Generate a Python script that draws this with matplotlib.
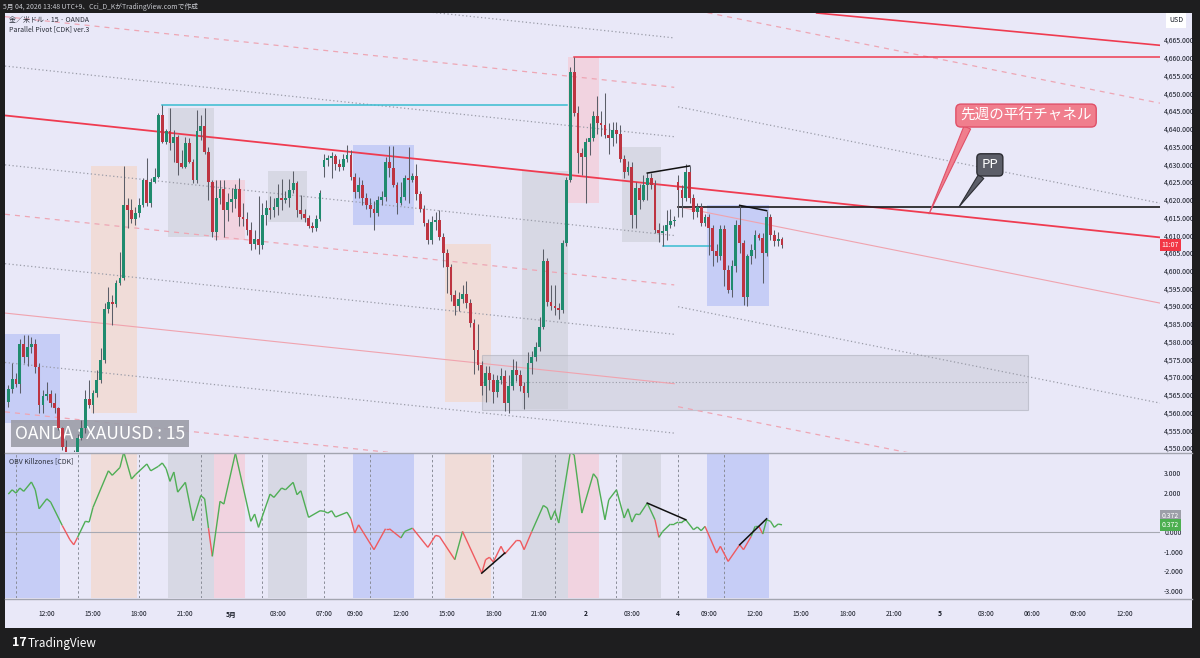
import numpy as np
import matplotlib.pyplot as plt
import matplotlib.transforms as mtransforms
from matplotlib.collections import LineCollection
from matplotlib.lines import Line2D
from matplotlib.patches import Rectangle

plt.rcParams['font.family'] = ['Noto Sans CJK JP', 'DejaVu Sans']

# 15 min candles, bar 0 = 4/30 09:30 JST, last bar = 5/4 13:45
opens = [
    4563.0, 4566.7, 4569.5, 4568.1, 4579.4, 4575.7, 4578.5, 4579.4, 4572.9, 4562.2,
    4564.7, 4565.3, 4562.7, 4561.3, 4555.7, 4550.4, 4547.5, 4545.5, 4548.0, 4552.9,
    4555.7, 4563.9, 4562.2, 4565.6, 4569.2, 4574.9, 4589.2, 4591.2, 4590.5, 4596.6,
    4598.0, 4618.5, 4617.1, 4614.6, 4616.3, 4618.5, 4625.5, 4619.1, 4625.0, 4626.4,
    4643.9, 4636.3, 4639.4, 4636.0, 4637.7, 4630.3, 4629.2, 4636.0, 4630.6, 4625.6,
    4639.4, 4640.8, 4633.4, 4625.0, 4610.9, 4620.5, 4623.0, 4617.1, 4619.4, 4620.2,
    4623.0, 4615.1, 4614.5, 4611.4, 4607.5, 4609.0, 4607.2, 4615.6, 4617.7, 4617.0,
    4617.8, 4620.5, 4620.0, 4620.6, 4622.6, 4624.6, 4617.1, 4616.0, 4614.8, 4612.6,
    4612.0, 4614.6, 4629.3, 4631.2, 4631.8, 4632.3, 4630.0, 4629.3, 4631.5, 4632.5,
    4626.5, 4622.3, 4624.0, 4620.5, 4618.5, 4617.3, 4616.2, 4619.9, 4620.8, 4630.6,
    4629.0, 4624.1, 4619.1, 4620.8, 4626.1, 4625.6, 4626.6, 4621.6, 4617.5, 4613.5,
    4608.7, 4613.8, 4614.3, 4609.6, 4604.9, 4601.1, 4593.2, 4590.0, 4592.0, 4593.5,
    4590.8, 4585.2, 4577.7, 4573.4, 4567.4, 4571.2, 4569.2, 4565.7, 4569.2, 4570.2,
    4562.7, 4567.4, 4572.0, 4570.5, 4567.5, 4565.5, 4574.0, 4575.8, 4578.6, 4584.2,
    4602.6, 4591.3, 4590.0, 4589.6, 4589.0, 4607.7, 4625.6, 4656.1, 4644.4, 4633.1,
    4632.0, 4636.3, 4637.5, 4643.6, 4641.5, 4641.0, 4638.2, 4637.5, 4639.6, 4638.6,
    4631.4, 4627.9, 4629.2, 4615.7, 4623.2, 4620.0, 4624.2, 4626.2, 4624.2, 4611.5,
    4610.5, 4611.2, 4613.0, 4614.0, 4625.1, 4622.7, 4620.4, 4627.9, 4620.4, 4616.6,
    4617.8, 4613.4, 4615.0, 4612.0, 4605.4, 4604.0, 4611.6, 4600.2, 4594.5, 4601.2,
    4612.9, 4607.7, 4592.7, 4604.0, 4605.9, 4610.1, 4609.1, 4604.9, 4615.2, 4610.1,
    4608.3, 4609.0]
highs = [
    4567.8, 4574.0, 4571.2, 4580.8, 4582.0, 4582.0, 4581.3, 4580.8, 4574.0, 4566.4,
    4568.7, 4566.4, 4565.6, 4561.6, 4556.0, 4552.4, 4549.0, 4549.5, 4554.0, 4558.0,
    4566.4, 4569.2, 4566.4, 4572.0, 4578.2, 4590.9, 4595.4, 4593.2, 4597.4, 4605.3,
    4629.5, 4620.5, 4620.2, 4618.0, 4620.5, 4626.1, 4631.8, 4626.1, 4629.0, 4644.4,
    4646.7, 4640.0, 4645.8, 4639.7, 4638.3, 4634.0, 4637.7, 4637.4, 4631.5, 4645.3,
    4643.9, 4645.8, 4634.9, 4625.6, 4625.6, 4625.6, 4625.6, 4622.0, 4623.3, 4624.4,
    4626.0, 4619.0, 4616.5, 4613.6, 4611.4, 4621.0, 4619.1, 4620.0, 4621.0, 4620.5,
    4624.4, 4625.9, 4622.5, 4625.9, 4628.0, 4625.4, 4621.3, 4617.5, 4615.6, 4613.6,
    4615.8, 4622.8, 4633.0, 4632.5, 4633.5, 4633.0, 4631.5, 4633.0, 4635.5, 4634.0,
    4627.5, 4626.5, 4625.5, 4622.0, 4620.5, 4619.5, 4621.0, 4622.5, 4632.0, 4635.2,
    4635.2, 4625.0, 4625.0, 4627.0, 4634.9, 4627.5, 4630.0, 4622.5, 4618.5, 4614.5,
    4615.5, 4616.5, 4617.0, 4610.5, 4606.0, 4601.8, 4594.5, 4594.0, 4596.0, 4597.0,
    4592.0, 4586.5, 4585.0, 4574.5, 4573.0, 4573.0, 4571.0, 4570.5, 4572.5, 4572.0,
    4570.5, 4575.0, 4574.5, 4572.0, 4568.5, 4577.0, 4577.5, 4580.0, 4587.0, 4606.0,
    4603.5, 4596.0, 4596.0, 4591.0, 4608.5, 4626.5, 4657.5, 4660.3, 4646.5, 4634.5,
    4637.5, 4641.5, 4645.0, 4649.3, 4645.0, 4650.0, 4641.5, 4642.0, 4642.0, 4641.0,
    4632.5, 4631.0, 4630.5, 4625.0, 4624.5, 4627.0, 4627.5, 4627.5, 4625.5, 4613.5,
    4613.0, 4617.0, 4617.5, 4615.5, 4627.0, 4624.0, 4630.0, 4629.5, 4621.5, 4619.0,
    4619.0, 4616.0, 4616.0, 4613.0, 4607.5, 4613.0, 4613.0, 4601.5, 4603.0, 4614.3,
    4618.4, 4608.5, 4604.6, 4607.5, 4611.5, 4610.5, 4610.5, 4616.9, 4616.0, 4611.5,
    4611.0, 4609.5]
lows = [
    4561.6, 4565.6, 4567.3, 4565.6, 4574.0, 4573.0, 4576.8, 4571.2, 4559.9, 4559.9,
    4563.6, 4561.6, 4559.9, 4555.1, 4549.5, 4545.0, 4543.0, 4543.5, 4547.0, 4552.4,
    4554.3, 4561.3, 4560.0, 4564.4, 4568.4, 4574.0, 4588.1, 4584.7, 4589.8, 4596.0,
    4597.4, 4612.0, 4613.5, 4613.0, 4615.0, 4617.9, 4618.2, 4618.0, 4624.7, 4626.1,
    4636.0, 4635.8, 4634.0, 4630.6, 4627.0, 4629.0, 4629.0, 4630.3, 4624.7, 4624.7,
    4636.8, 4633.0, 4619.9, 4609.6, 4608.6, 4618.7, 4609.6, 4614.0, 4616.5, 4617.6,
    4612.5, 4612.5, 4610.0, 4605.9, 4606.0, 4604.8, 4606.0, 4613.0, 4614.5, 4615.0,
    4615.6, 4617.0, 4619.0, 4618.0, 4622.0, 4615.0, 4614.6, 4613.8, 4612.0, 4611.0,
    4611.2, 4614.0, 4626.5, 4629.5, 4626.0, 4628.5, 4628.0, 4628.5, 4630.5, 4625.5,
    4620.5, 4620.5, 4618.5, 4617.5, 4615.0, 4611.4, 4615.5, 4618.5, 4619.5, 4626.5,
    4623.5, 4616.0, 4618.5, 4620.0, 4619.0, 4625.0, 4620.0, 4616.5, 4612.5, 4607.5,
    4607.5, 4611.5, 4608.5, 4601.0, 4593.6, 4591.5, 4587.5, 4588.5, 4591.0, 4589.5,
    4584.0, 4571.0, 4572.0, 4565.0, 4563.0, 4566.5, 4562.6, 4564.5, 4568.0, 4560.5,
    4560.0, 4566.5, 4569.0, 4566.0, 4561.0, 4564.5, 4571.0, 4574.5, 4577.5, 4583.5,
    4590.0, 4589.0, 4587.5, 4586.5, 4588.0, 4607.0, 4625.0, 4643.5, 4627.4, 4627.0,
    4619.0, 4632.5, 4636.5, 4638.5, 4638.0, 4637.5, 4633.0, 4635.0, 4636.0, 4630.5,
    4626.0, 4627.0, 4612.0, 4612.0, 4617.5, 4619.5, 4620.0, 4623.0, 4610.5, 4608.0,
    4607.0, 4608.5, 4612.0, 4612.5, 4615.2, 4615.0, 4619.5, 4619.0, 4614.5, 4615.0,
    4612.5, 4612.5, 4604.4, 4601.3, 4602.5, 4603.0, 4595.8, 4593.6, 4592.5, 4599.5,
    4605.0, 4590.3, 4590.0, 4602.0, 4603.5, 4608.5, 4596.6, 4604.0, 4608.5, 4607.0,
    4607.0, 4606.5]
closes = [
    4566.7, 4569.5, 4568.1, 4579.4, 4575.7, 4578.5, 4579.4, 4572.9, 4562.2, 4564.7,
    4565.3, 4562.7, 4561.3, 4555.7, 4550.4, 4547.5, 4545.5, 4548.0, 4552.9, 4555.7,
    4563.9, 4562.2, 4565.6, 4569.2, 4574.9, 4589.2, 4591.2, 4590.5, 4596.6, 4598.0,
    4618.5, 4617.1, 4614.6, 4616.3, 4618.5, 4625.5, 4619.1, 4625.0, 4626.4, 4643.9,
    4636.3, 4639.4, 4636.0, 4637.7, 4630.3, 4629.2, 4636.0, 4630.6, 4625.6, 4639.4,
    4640.8, 4633.4, 4625.0, 4610.9, 4620.5, 4623.0, 4617.1, 4619.4, 4620.2, 4623.0,
    4615.1, 4614.5, 4611.4, 4607.5, 4609.0, 4607.2, 4615.6, 4617.7, 4617.0, 4617.8,
    4620.5, 4620.0, 4620.6, 4622.6, 4624.6, 4617.1, 4616.0, 4614.8, 4612.6, 4612.0,
    4614.6, 4622.0, 4631.2, 4631.8, 4632.3, 4630.0, 4629.3, 4631.5, 4632.5, 4626.5,
    4622.3, 4624.0, 4620.5, 4618.5, 4617.3, 4616.2, 4619.9, 4620.8, 4630.6, 4629.0,
    4624.1, 4619.1, 4620.8, 4626.1, 4625.6, 4626.6, 4621.6, 4617.5, 4613.5, 4608.7,
    4613.8, 4614.3, 4609.6, 4604.9, 4601.1, 4593.2, 4590.0, 4592.0, 4593.5, 4590.8,
    4585.2, 4577.7, 4573.4, 4567.4, 4571.2, 4569.2, 4565.7, 4569.2, 4570.2, 4562.7,
    4567.4, 4572.0, 4570.5, 4567.5, 4565.5, 4574.0, 4575.8, 4578.6, 4584.2, 4602.6,
    4591.3, 4590.0, 4589.6, 4589.0, 4607.7, 4625.6, 4656.1, 4644.4, 4633.1, 4632.0,
    4636.3, 4637.5, 4643.6, 4641.5, 4641.0, 4638.2, 4637.5, 4639.6, 4638.6, 4631.4,
    4627.9, 4629.2, 4615.7, 4623.2, 4620.0, 4624.2, 4626.2, 4624.2, 4611.5, 4610.5,
    4611.2, 4613.0, 4614.0, 4614.3, 4622.7, 4620.4, 4627.9, 4620.4, 4616.6, 4617.8,
    4613.4, 4615.0, 4612.0, 4605.4, 4604.0, 4611.6, 4600.2, 4594.5, 4601.2, 4612.9,
    4607.7, 4592.7, 4604.0, 4605.9, 4610.1, 4609.1, 4604.9, 4615.2, 4610.1, 4608.3,
    4609.0, 4607.3]
last_price = 4607.3

# time axis (bar index -> label)
tick_bars = [10, 22, 34, 46, 58, 70, 82, 90, 102, 114, 126, 138, 150, 162, 174,
             182, 194, 206, 218, 230, 242, 254, 266, 278, 290]
tick_labels = ['12:00', '15:00', '18:00', '21:00', '5月', '03:00', '07:00', '09:00',
               '12:00', '15:00', '18:00', '21:00', '2', '03:00', '4', '09:00', '12:00',
               '15:00', '18:00', '21:00', '5', '03:00', '06:00', '09:00', '12:00']
day_labels = ['5月', '2', '4', '5']
session_bars = [2, 18, 34, 50, 66, 82, 94, 110, 126, 142, 158, 174, 186]

# killzone boxes
kz_start = [-0.9, 21.5, 41.5, 53.5, 67.5, 89.5, 113.5, 133.5, 145.5, 159.5, 181.5]
kz_end = [13.4, 33.4, 53.5, 61.5, 77.5, 105.5, 125.5, 145.5, 153.5, 169.5, 197.5]
kz_high = [4582.2, 4629.5, 4645.8, 4625.6, 4628.0, 4635.5, 4607.5, 4628.0, 4660.3, 4634.9, 4618.4]
kz_low = [4557.0, 4560.0, 4609.6, 4608.6, 4613.8, 4613.0, 4563.0, 4561.0, 4619.0, 4608.0, 4590.0]
kz_kind = ['blue', 'orange', 'grey', 'pink', 'grey', 'blue', 'orange', 'grey', 'pink', 'grey', 'blue']

# last week's parallel pivot channel
lw_start, lw_end = -0.86, 173.0
lw_pp = 4643.73          # centre line at lw_start
lw_slope = -0.1145       # per bar
lw_step = 13.92
lw_levels = [3, 2, 1, -1, -2, -3, -4, -5, -6]
lw_styles = ['dot', 'dash', 'dot', 'dot', 'dash', 'dot', 'solid', 'dot', 'dash']

# this week's channel
tw_start = 174.0
tw_pp = 4618.0
tw_slope = -0.2168
tw_step = 28.17
tw_levels = [2, 1, 0, -1, -2]
tw_styles = ['dash', 'dot', 'solid', 'dot', 'dash']

# other drawn levels
upper_red = [(210.0, 4672.6), (299.2, 4663.5)]
cyan_high = (40, 145.2, 4646.7)
cyan_low = (170, 182.8, 4607.0)
red_high = (147, 4660.2)
pp_level = 4618.0
price_div = [((166, 4627.5), (177, 4629.5)), ((190, 4618.4), (197, 4616.9))]
zone_x = (123.1, 264.9)
zone_y = (4560.8, 4576.3)

# OBV oscillator vertices
osc_bars = [0, 1, 2, 3, 4, 6, 7, 8, 10, 11, 14, 16, 17, 18, 20, 21, 22, 26, 27, 29,
            30, 32, 33, 36, 37, 39, 40, 41, 42, 43, 44, 46, 48, 50, 51, 52, 53, 55, 56, 59,
            63, 64, 65, 68, 69, 71, 72, 74, 75, 76, 78, 81, 82, 83, 84, 85, 88, 89, 90, 91,
            95, 98, 99, 102, 103, 105, 109, 111, 112, 116, 118, 123, 124, 125, 126, 128, 129,
            132, 133, 134, 136, 139, 140, 141, 142, 143, 146, 147, 149, 152, 153, 155, 156,
            158, 160, 161, 162, 163, 164, 166, 168, 169, 170, 172, 173, 174, 175, 176, 178,
            179, 180, 181, 184, 185, 187, 190, 191, 193, 194, 195, 196, 197, 198, 199, 200, 201]
osc_vals = [1.94, 2.16, 1.99, 2.25, 2.08, 2.56, 2.16, 1.19, 1.70, 1.53, 0.34, -0.39, -0.65,
            -0.27, 0.55, 0.51, 1.26, 3.13, 2.90, 3.30, 4.09, 2.71, 2.93, 3.48, 3.13, 3.36,
            3.53, 3.24, 2.59, 3.07, 2.04, 2.54, 0.58, 1.87, 1.70, 0.20, -1.24, 1.57, 1.43,
            4.04, 0.55, 0.92, 0.24, 1.94, 1.77, 2.25, 2.16, 2.54, 1.91, 2.11, 0.75, 1.09,
            1.06, 0.97, 1.09, 0.77, 1.01, 0.68, -0.05, 0.37, -0.90, 0.17, 0.17, -0.30, 0.03,
            0.20, -0.78, -0.17, -0.22, -1.41, 0.03, -2.10, -1.41, -1.29, -1.53, -0.73, -1.12,
            -0.43, -0.44, -0.90, 0.03, 1.36, 1.23, 0.63, 1.09, 0.46, 4.09, 3.95, 0.97, 2.98,
            2.73, 0.63, 1.65, 2.16, 0.72, 1.19, 0.51, 0.92, 0.89, 1.48, 0.63, -0.27, 0.03,
            0.41, 0.41, 0.51, 0.51, 0.63, 0.12, 0.26, 0.07, 0.29, -1.07, -0.73, -1.50, -0.65,
            -0.90, -0.22, 0.29, 0.29, -0.10, 0.63, 0.55, 0.24, 0.41, 0.37]
osc_red_spans = [(14, 18), (52, 53), (89, 102), (105, 116), (118, 136), (168, 169),
                 (181, 193), (195, 196)]
osc_div = [((123, -2.10), (129, -1.07)), ((166, 1.48), (176, 0.63)), ((190, -0.65), (197, 0.68))]
osc_last = 0.372

BG = '#e9e8f8'
DARK = '#1e1e1f'
UP, DOWN, WICK = '#1f8b6e', '#bd3441', '#5b5e68'
KZ = {'blue': '#c6cdf6', 'orange': '#f0dcd8', 'grey': '#d7d8e4', 'pink': '#f1d3e0'}
STYLE = {
    'dot': dict(color='#9a9ca8', lw=0.9, ls=(0, (1, 2))),
    'dash': dict(color='#eea6b4', lw=0.9, ls=(0, (4, 4))),
    'solid': dict(color='#f0a3ae', lw=0.8, ls='-'),
}

W, H = 1200, 658
XMIN, XMAX = -0.86, 299.2


def box(x0, y0, x1, y1):
    return [x0 / W, 1 - y1 / H, (x1 - x0) / W, (y1 - y0) / H]


def clean(a):
    a.set_facecolor(BG)
    for s in a.spines.values():
        s.set_visible(False)
    a.set_xticks([])
    a.set_xlim(XMIN, XMAX)


fig = plt.figure(figsize=(12, 6.58), dpi=100, facecolor=DARK)
fig.add_artist(Rectangle((5 / W, 1 - 628 / H), 1187 / W, 615 / H,
                         transform=fig.transFigure, fc=BG, ec='none', zorder=0))

ax = fig.add_axes(box(5, 13, 1160, 452))
osc = fig.add_axes(box(5, 453, 1160, 598))
clean(ax)
clean(osc)
ax.set_ylim(4548.9, 4672.6)
osc.set_ylim(-3.37, 4.04)

# price scale
price_ticks = np.arange(4550, 4666, 5)
ax.yaxis.tick_right()
ax.set_yticks(price_ticks)
ax.set_yticklabels([f'{v:,.3f}' for v in price_ticks])
ax.tick_params(axis='y', length=0, pad=3, labelsize=5, labelcolor='#131722')
osc_ticks = [-3, -2, -1, 0, 1, 2, 3]
osc.yaxis.tick_right()
osc.set_yticks(osc_ticks)
osc.set_yticklabels([f'{v:.3f}' for v in osc_ticks])
osc.tick_params(axis='y', length=0, pad=3, labelsize=5, labelcolor='#131722')

# killzones
for s, e, hi, lo, k in zip(kz_start, kz_end, kz_high, kz_low, kz_kind):
    ax.add_patch(Rectangle((s, lo), e - s, hi - lo, fc=KZ[k], ec='none', zorder=1))
    osc.axvspan(s, e, color=KZ[k], lw=0, zorder=0.5)

# grey zone box
ax.add_patch(Rectangle((zone_x[0], zone_y[0]), zone_x[1] - zone_x[0], zone_y[1] - zone_y[0],
                       fc='#c9cad6', ec='#a9abb6', lw=0.8, alpha=0.55, zorder=1.2))
ax.plot(zone_x, [sum(zone_y) / 2] * 2, color='#9a9ca8', lw=0.8, ls=(0, (1, 2)), zorder=1.3)

# last week's channel
for k, st in zip(lw_levels, lw_styles):
    y0 = lw_pp + k * lw_step
    ax.plot([lw_start, lw_end], [y0, y0 + lw_slope * (lw_end - lw_start)], zorder=2, **STYLE[st])
ax.plot([lw_start, XMAX], [lw_pp, lw_pp + lw_slope * (XMAX - lw_start)],
        color='#ef3b50', lw=1.3, zorder=2.2)
ax.plot([p[0] for p in upper_red], [p[1] for p in upper_red], color='#ef3b50', lw=1.2, zorder=2.2)

# this week's channel
for k, st in zip(tw_levels, tw_styles):
    y0 = tw_pp + k * tw_step
    ax.plot([tw_start, XMAX], [y0, y0 + tw_slope * (XMAX - tw_start)], zorder=2, **STYLE[st])

# levels
ax.plot([cyan_high[0], cyan_high[1]], [cyan_high[2]] * 2, color='#38bcd0', lw=1.1, zorder=2.3)
ax.plot([cyan_low[0], cyan_low[1]], [cyan_low[2]] * 2, color='#38bcd0', lw=1.1, zorder=2.3)
ax.plot([red_high[0], XMAX], [red_high[1]] * 2, color='#ef3b50', lw=1.1, zorder=2.3)
ax.plot([tw_start, XMAX], [pp_level] * 2, color='#1a1a1a', lw=1.2, zorder=2.4)
for (a, b) in price_div:
    ax.plot([a[0], b[0]], [a[1], b[1]], color='#111111', lw=1.1, zorder=4.5)

# label under the candles
ax.text(0.0823, 0.0421, 'OANDA : XAUUSD : 15', transform=ax.transAxes, ha='center', va='center',
        fontsize=12.5, color='white', zorder=2.6,
        bbox=dict(boxstyle='square,pad=0.25', fc='#9d9ea9', ec='none', alpha=0.92))

# candles
bars = np.arange(len(closes))
o = np.array(opens)
c = np.array(closes)
colors = np.where(c >= o, UP, DOWN)
ax.vlines(bars, lows, highs, color=WICK, lw=0.75, zorder=3)
ax.bar(bars, np.maximum(np.abs(c - o), 0.25), bottom=np.minimum(o, c), width=0.72,
       color=colors, lw=0, zorder=3.5)

# callouts
ax.annotate('先週の平行チャネル', xy=(239.2, 4616.0), xytext=(264.4, 4643.7),
            ha='center', va='center', fontsize=10.5, color='white', zorder=6,
            annotation_clip=False,
            bbox=dict(boxstyle='round,pad=0.3,rounding_size=0.35', fc='#f07e8d', ec='#e05068', lw=1),
            arrowprops=dict(arrowstyle='wedge,tail_width=0.5', fc='#f07e8d', ec='#e05068',
                            lw=0.8, relpos=(0.07, 0.0), shrinkA=0, shrinkB=0))
ax.annotate('PP', xy=(247.0, 4618.0), xytext=(255.0, 4629.8),
            ha='center', va='center', fontsize=9.5, color='white', zorder=6,
            annotation_clip=False,
            bbox=dict(boxstyle='round,pad=0.35,rounding_size=0.3', fc='#5c5e68', ec='#2c2d33', lw=1),
            arrowprops=dict(arrowstyle='wedge,tail_width=0.5', fc='#5c5e68', ec='#2c2d33',
                            lw=0.8, relpos=(0.2, 0.0), shrinkA=0, shrinkB=0))

# current price tag
ax.text(1.0015, last_price, '11:07', transform=ax.get_yaxis_transform(), ha='left', va='center',
        fontsize=5, color='white', zorder=7, clip_on=False,
        bbox=dict(boxstyle='square,pad=0.28', fc='#f23645', ec='none'))

# oscillator
for b in session_bars:
    osc.axvline(b, color='#8a8d98', lw=0.7, ls=(0, (2.5, 2.5)), zorder=1)
osc.axhline(0, color='#a7a9b3', lw=0.8, zorder=1.2)
segs, seg_cols = [], []
for j in range(len(osc_bars) - 1):
    x0, x1 = osc_bars[j], osc_bars[j + 1]
    segs.append([(x0, osc_vals[j]), (x1, osc_vals[j + 1])])
    red = any(s <= x0 and x1 <= e for s, e in osc_red_spans)
    seg_cols.append('#ef5a5f' if red else '#4fae55')
osc.add_collection(LineCollection(segs, colors=seg_cols, lw=1.0, zorder=3))
for (a, b) in osc_div:
    osc.plot([a[0], b[0]], [a[1], b[1]], color='#111111', lw=1.1, zorder=4)
osc.text(1.0015, 0.84, f'{osc_last:.3f}', transform=osc.get_yaxis_transform(), ha='left',
         va='center', fontsize=5, color='white', clip_on=False, zorder=7,
         bbox=dict(boxstyle='square,pad=0.28', fc='#9c9ea8', ec='none'))
osc.text(1.0015, osc_last, f'{osc_last:.3f}', transform=osc.get_yaxis_transform(), ha='left',
         va='center', fontsize=5, color='white', clip_on=False, zorder=7,
         bbox=dict(boxstyle='square,pad=0.28', fc='#4caf50', ec='none'))

# time axis labels
tt = mtransforms.blended_transform_factory(osc.transData, fig.transFigure)
for b, lab in zip(tick_bars, tick_labels):
    osc.text(b, 1 - 614 / H, lab, transform=tt, ha='center', va='center', fontsize=4.8,
             color='#131722', clip_on=False,
             fontweight='bold' if lab in day_labels else 'normal')

# panel separators
for yy in (452.5, 598.5):
    fig.add_artist(Line2D([5 / W, 1192 / W], [1 - yy / H] * 2, transform=fig.transFigure,
                          color='#a3a5b0', lw=1.0))

# texts
fig.text(3 / W, 1 - 7 / H, '5月 04, 2026 13:48 UTC+9、Cci_D_KがTradingView.comで作成',
         fontsize=4.9, color='#c9cbd1', va='center')
fig.text(9 / W, 1 - 20 / H, '金／米ドル · 15 · OANDA', fontsize=5, color='#2a2e39', va='center')
fig.text(9 / W, 1 - 29 / H, 'Parallel Pivot [CDK] ver.3', fontsize=5, color='#2a2e39', va='center')
fig.text(9 / W, 1 - 461 / H, 'OBV Killzones [CDK]', fontsize=5, color='#2a2e39', va='center')
fig.text(1176 / W, 1 - 20.5 / H, 'USD', fontsize=5, color='#131722', ha='center', va='center',
         bbox=dict(boxstyle='square,pad=0.5', fc='white', ec='none'))
fig.text(12 / W, 1 - 643 / H, '17', fontsize=9, color='white', fontweight='bold', va='center')
fig.text(28 / W, 1 - 643 / H, 'TradingView', fontsize=8.5, color='white', va='center')

fig.savefig('out.png', dpi=100, facecolor=DARK)
